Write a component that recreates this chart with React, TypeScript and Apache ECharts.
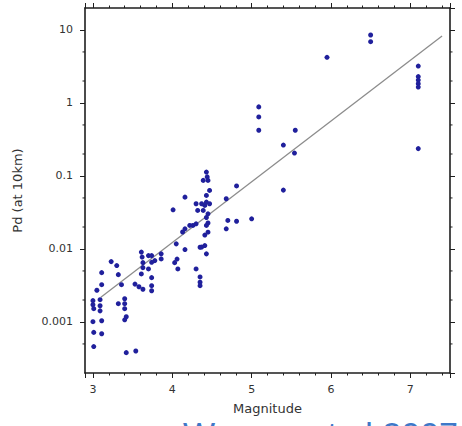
import { useEffect, useRef } from 'react';
import * as echarts from 'echarts';

const magnitude = [
  3.0, 3.0, 3.01, 3.0, 3.01, 3.01, 3.05,
  3.11, 3.11, 3.09, 3.09, 3.09, 3.11, 3.11,
  3.23, 3.3, 3.32, 3.32, 3.36, 3.4, 3.4, 3.4, 3.42, 3.4, 3.42,
  3.54, 3.53, 3.58, 3.63, 3.61, 3.62, 3.63, 3.61, 3.63,
  3.7, 3.74, 3.74, 3.7, 3.74, 3.74, 3.74, 3.78, 3.86, 3.86,
  4.01, 4.05, 4.06, 4.03, 4.07, 4.13, 4.16, 4.16, 4.16,
  4.22, 4.26, 4.3, 4.32, 4.3, 4.3, 4.35, 4.35, 4.35, 4.35,
  4.43, 4.44, 4.45, 4.39, 4.47, 4.43, 4.43, 4.47, 4.41, 4.39, 4.45, 4.43, 4.45, 4.45, 4.41, 4.37, 4.41, 4.43, 4.43, 4.37,
  4.81, 4.68, 4.7, 4.81, 4.68,
  5.0, 5.09, 5.09, 5.09, 5.4, 5.4, 5.55, 5.54, 5.95, 6.5, 6.5,
  7.1, 7.1, 7.1, 7.1, 7.1, 7.1,
];

const pd = [
  0.00196, 0.00172, 0.00152, 0.00101, 0.00072, 0.00046, 0.00272,
  0.00474, 0.00324, 0.00202, 0.00167, 0.00142, 0.00104, 0.00069,
  0.00671, 0.00592, 0.00445, 0.00178, 0.00324, 0.00208, 0.00178, 0.00152, 0.00118, 0.00107, 0.00038,
  0.0004, 0.0033, 0.00304, 0.00281, 0.00906, 0.00774, 0.00555, 0.00455, 0.0065,
  0.00811, 0.00811, 0.00657, 0.00533, 0.00405, 0.00314, 0.00268, 0.00693, 0.00857, 0.00731,
  0.0344, 0.01175, 0.00727, 0.0065, 0.00533, 0.0171, 0.0189, 0.00981, 0.0513,
  0.021, 0.021, 0.0416, 0.0337, 0.0221, 0.00533, 0.00414, 0.00351, 0.00314, 0.01055,
  0.1131, 0.0972, 0.087, 0.087, 0.0634, 0.0541, 0.0438, 0.0416, 0.0395, 0.0337, 0.0303, 0.027, 0.0227, 0.017, 0.0155, 0.01062, 0.01114, 0.00857, 0.021, 0.0416,
  0.0731, 0.0488, 0.0246, 0.024, 0.0189,
  0.0259, 0.884, 0.644, 0.423, 0.265, 0.064, 0.423, 0.206, 4.22, 8.54, 6.91,
  3.2, 2.3, 2.06, 1.84, 1.65, 0.237,
];

const fitMagnitude = [3.1, 7.4];
const fitPd = [0.00218, 8.28];

const xTickLabels = ['3', '4', '5', '6', '7'];
const yTickLabels = ['0.001', '0.01', '0.1', '1', '10'];
const yMinorTicks = [0.0005, 0.002, 0.005, 0.02, 0.05, 0.2, 0.5, 2, 5];

const X_MIN = 2.9;
const X_MAX = 7.5;
const Y_MIN = 0.0002;
const Y_MAX = 20;

const FRAME = '#1e1e1e';
const LABEL = '#333';
const FONT = 'DejaVu Sans';

function xLabel(v: number) {
  const r = Math.round(v);
  if (Math.abs(v - r) > 1e-6) return '';
  return xTickLabels[r - 3] ?? '';
}

function yLabel(v: number) {
  const l = Math.log10(v);
  const r = Math.round(l);
  if (Math.abs(l - r) > 1e-6) return '';
  return yTickLabels[r + 3] ?? '';
}

export default function App() {
  const ref = useRef<HTMLDivElement>(null);

  useEffect(() => {
    if (!ref.current) return;
    const chart = echarts.init(ref.current, null, { renderer: 'svg' });

    const axisCommon = {
      axisLine: { show: true, lineStyle: { color: FRAME, width: 1.6 } },
      axisTick: { show: true, inside: false, length: 5, lineStyle: { color: FRAME, width: 1 } },
      splitLine: { show: false },
    };

    const option: any = {
      animation: false,
      backgroundColor: '#fff',
      grid: { left: 85, top: 8, width: 365, height: 365, containLabel: false, outerBoundsMode: 'none' },
      xAxis: [
        {
          type: 'value',
          position: 'bottom',
          min: X_MIN,
          max: X_MAX,
          splitNumber: 5,
          ...axisCommon,
          minorTick: { show: true, splitNumber: 5, length: 2.5, lineStyle: { color: FRAME, width: 1 } },
          axisLabel: {
            show: true,
            formatter: xLabel,
            color: LABEL,
            fontSize: 11,
            fontFamily: FONT,
            margin: 11,
            showMinLabel: false,
            showMaxLabel: false,
          },
          name: 'Magnitude',
          nameLocation: 'middle',
          nameGap: 29,
          nameTextStyle: { color: LABEL, fontSize: 13, fontFamily: FONT },
        },
        {
          type: 'value',
          position: 'top',
          min: X_MIN,
          max: X_MAX,
          splitNumber: 5,
          ...axisCommon,
          minorTick: { show: true, splitNumber: 5, length: 2.5, lineStyle: { color: FRAME, width: 1 } },
          axisLabel: { show: false },
        },
      ],
      yAxis: [
        {
          type: 'log',
          logBase: 10,
          position: 'left',
          min: Y_MIN,
          max: Y_MAX,
          ...axisCommon,
          axisLabel: {
            show: true,
            formatter: yLabel,
            color: LABEL,
            fontSize: 11,
            fontFamily: FONT,
            margin: 12,
            showMinLabel: false,
            showMaxLabel: false,
          },
          name: 'Pd (at 10km)',
          nameLocation: 'middle',
          nameGap: 61,
          nameTextStyle: { color: LABEL, fontSize: 13, fontFamily: FONT },
        },
        {
          type: 'log',
          logBase: 10,
          position: 'right',
          min: Y_MIN,
          max: Y_MAX,
          ...axisCommon,
          axisLabel: { show: false },
        },
      ],
      graphic: [
        {
          type: 'text',
          left: 183,
          top: 417,
          silent: true,
          style: { text: 'Wu', fontSize: 34, fontFamily: 'Liberation Sans', fill: '#3f78c8' },
        },
        {
          type: 'text',
          right: 4,
          top: 417,
          silent: true,
          style: { text: 'et al 2007', fontSize: 34, fontFamily: 'Liberation Sans', fill: '#3f78c8' },
        },
      ],
      series: [
        {
          type: 'custom',
          xAxisIndex: 0,
          yAxisIndex: 0,
          clip: false,
          silent: true,
          data: yMinorTicks.map((v) => [X_MIN, v]),
          renderItem: (_params: any, api: any) => {
            const v = api.value(1);
            const l = api.coord([X_MIN, v]);
            const r = api.coord([X_MAX, v]);
            return {
              type: 'group',
              children: [
                { type: 'line', shape: { x1: l[0] - 2.5, y1: l[1], x2: l[0], y2: l[1] }, style: { stroke: FRAME, lineWidth: 1 } },
                { type: 'line', shape: { x1: r[0], y1: r[1], x2: r[0] + 2.5, y2: r[1] }, style: { stroke: FRAME, lineWidth: 1 } },
              ],
            };
          },
        },
        {
          type: 'line',
          data: fitMagnitude.map((m, i) => [m, fitPd[i]]),
          showSymbol: false,
          symbol: 'none',
          lineStyle: { color: '#8c8c8c', width: 1.3 },
          z: 2,
        },
        {
          type: 'scatter',
          data: magnitude.map((m, i) => [m, pd[i]]),
          symbol: 'circle',
          symbolSize: 5,
          itemStyle: { color: '#20209c', opacity: 1 },
          z: 3,
        },
      ],
    };

    chart.setOption(option);
    return () => chart.dispose();
  }, []);

  return (
    <div
      ref={ref}
      style={{ position: 'absolute', left: 0, top: 0, width: 462, height: 426 }}
    />
  );
}
